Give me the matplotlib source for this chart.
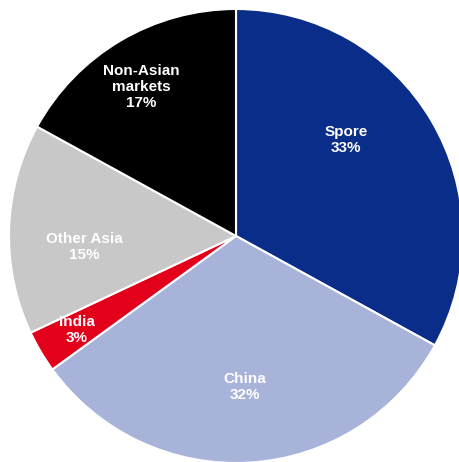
import matplotlib.pyplot as plt

# Share by market
markets = ['Spore', 'China', 'India', 'Other Asia', 'Non-Asian\nmarkets']
shares = [33, 32, 3, 15, 17]
colors = ['#0A2D8A', '#A8B3DA', '#E3001B', '#C8C8C8', '#000000']

# where each label sits (pie units, radius 1)
label_pos = [(0.485, 0.423), (0.040, -0.665), (-0.700, -0.414),
             (-0.670, -0.048), (-0.419, 0.656)]

fig = plt.figure(figsize=(4.6, 4.62), dpi=100)
ax = fig.add_axes([0, 0, 1, 1])

ax.pie(shares, colors=colors, startangle=90, counterclock=False, radius=1,
       wedgeprops=dict(edgecolor='white', linewidth=1.5))

for name, val, (x, y) in zip(markets, shares, label_pos):
    ax.text(x, y, f'{name}\n{val}%', ha='center', va='center', color='white',
            fontsize=11, fontweight='bold', family='Liberation Sans',
            linespacing=1.15)

r = 227.0
ax.set_xlim(-236 / r, (460 - 236) / r)
ax.set_ylim(-(462 - 236) / r, 236 / r)
ax.set_aspect('auto')
ax.axis('off')

fig.savefig('out.png', dpi=100)
